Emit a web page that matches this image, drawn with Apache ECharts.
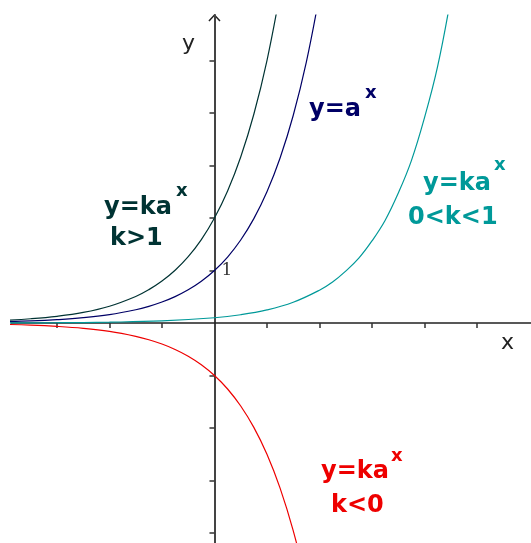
<!DOCTYPE html>
<html>
<head>
<meta charset="utf-8">
<script src="https://cdn.jsdelivr.net/npm/echarts@6/dist/echarts.min.js"></script>
<style>
  html, body { margin: 0; padding: 0; background: #fff; }
  #chart { width: 531px; height: 543px; }
</style>
</head>
<body>
<div id="chart"></div>
<script>
// x samples
const xsA = [-4, -3.5, -3, -2.5, -2, -1.5, -1.25, -1, -0.75, -0.5, -0.25, 0, 0.25, 0.5, 0.75, 1, 1.25, 1.5, 1.75, 2]
// y = a^x (a ~ 2.5)
const yA = [0.026, 0.040, 0.064, 0.101, 0.160, 0.253, 0.318, 0.400, 0.503, 0.632, 0.795, 1.000, 1.257, 1.581, 1.988, 2.500, 3.144, 3.953, 4.970, 6.250]
// y = k a^x, k < 0
const yNeg = [-0.026, -0.040, -0.064, -0.101, -0.160, -0.253, -0.318, -0.400, -0.503, -0.632, -0.795, -1.000, -1.257, -1.581, -1.988, -2.500, -3.144, -3.953, -4.970, -6.250]
// y = k a^x, k > 1
const xsBig = [-4, -3.5, -3, -2.5, -2, -1.5, -1.25, -1, -0.75, -0.5, -0.25, 0, 0.25, 0.5, 0.75, 1, 1.25]
const yBig = [0.051, 0.081, 0.128, 0.202, 0.320, 0.506, 0.636, 0.800, 1.006, 1.265, 1.590, 2.000, 2.515, 3.162, 3.976, 5.000, 6.290]
// y = k a^x, 0 < k < 1
const xsSmall = [-4, -3, -2, -1, 0, 0.5, 1, 1.5, 2, 2.25, 2.5, 2.75, 3, 3.25, 3.5, 3.75, 4, 4.25, 4.5]
const ySmall = [0.003, 0.006, 0.016, 0.040, 0.100, 0.158, 0.250, 0.395, 0.625, 0.781, 0.988, 1.235, 1.563, 1.953, 2.470, 3.088, 3.906, 4.883, 6.176]

const xTicks = [-3, -2, -1, 1, 2, 3, 4, 5]
const yTicks = [-4, -3, -2, -1, 1, 2, 3, 4, 5]

const colors = { big: '#003333', base: '#000066', small: '#009999', neg: '#ee0000' }

const zip = (xs, ys) => xs.map((x, i) => [x, ys[i]])

const chart = echarts.init(document.getElementById('chart'))

const lineSeries = (data, color) => ({
  type: 'line',
  data,
  showSymbol: false,
  smooth: 0.4,
  clip: true,
  lineStyle: { color, width: 1.2 },
  silent: true
})

// formula labels: main text, superscript, optional second line
const labels = [
  { text: 'y=a', x: 309, y: 110, supX: 365, supY: 93, color: colors.base },
  { text: 'y=ka', x: 104, y: 208, supX: 176, supY: 191, line2: 'k>1', l2x: 110, l2y: 239, color: colors.big },
  { text: 'y=ka', x: 423, y: 184, supX: 494, supY: 165, line2: '0<k<1', l2x: 408, l2y: 218, color: colors.small },
  { text: 'y=ka', x: 321, y: 472, supX: 391, supY: 456, line2: 'k<0', l2x: 331, l2y: 506, color: colors.neg }
]

const boldText = (text, x, y, size, color) => ({
  type: 'text',
  x, y,
  silent: true,
  style: {
    text,
    fill: color,
    font: `bold ${size}px "DejaVu Sans"`,
    verticalAlign: 'middle',
    align: 'left'
  }
})

const graphics = []
labels.forEach(l => {
  graphics.push(boldText(l.text, l.x, l.y, 24, l.color))
  graphics.push(boldText('x', l.supX, l.supY, 18, l.color))
  if (l.line2) graphics.push(boldText(l.line2, l.l2x, l.l2y, 24, l.color))
})

chart.setOption({
  animation: false,
  grid: { left: 11, right: 0, top: 15, bottom: 0, containLabel: false },
  xAxis: {
    type: 'value',
    min: -3.876,
    max: 6.03,
    axisLine: { onZero: true, lineStyle: { color: '#222', width: 1.5 } },
    axisTick: { show: true, length: 5, customValues: xTicks, lineStyle: { color: '#333', width: 1.5 } },
    axisLabel: { show: false },
    splitLine: { show: false }
  },
  yAxis: {
    type: 'value',
    min: -4.19,
    max: 5.867,
    axisLine: { onZero: true, lineStyle: { color: '#444', width: 2 } },
    axisTick: { show: true, length: 5, customValues: yTicks, lineStyle: { color: '#333', width: 1.5 } },
    axisLabel: { show: false },
    splitLine: { show: false }
  },
  series: [
    lineSeries(zip(xsBig, yBig), colors.big),
    lineSeries(zip(xsA, yA), colors.base),
    lineSeries(zip(xsSmall, ySmall), colors.small),
    lineSeries(zip(xsA, yNeg), colors.neg)
  ]
})

// axis names, the "1" label and the open arrow head, placed from data coords
const axisTop = chart.convertToPixel({ gridIndex: 0 }, [0, 5.867])
const one = chart.convertToPixel({ gridIndex: 0 }, [0, 1])
chart.setOption({
  graphic: graphics.concat([
    {
      type: 'polyline',
      silent: true,
      shape: { points: [[axisTop[0] - 5.5, axisTop[1] + 6], [axisTop[0], axisTop[1]], [axisTop[0] + 5.5, axisTop[1] + 6]] },
      style: { stroke: '#222', lineWidth: 1.5, fill: null }
    },
    {
      type: 'text', x: one[0] + 7, y: one[1], silent: true,
      style: { text: '1', fill: '#333', font: '17px "DejaVu Serif"', verticalAlign: 'middle' }
    },
    {
      type: 'text', x: 182, y: 44, silent: true,
      style: { text: 'y', fill: '#222', font: '22px "DejaVu Sans"', verticalAlign: 'middle' }
    },
    {
      type: 'text', x: 501, y: 343, silent: true,
      style: { text: 'x', fill: '#222', font: '22px "DejaVu Sans"', verticalAlign: 'middle' }
    }
  ])
})

window.addEventListener('resize', () => chart.resize())
</script>
</body>
</html>
